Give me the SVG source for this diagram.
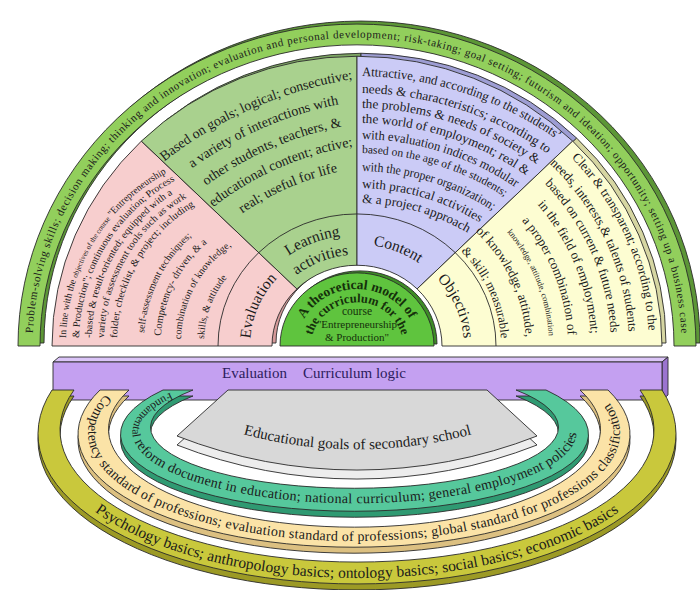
<svg xmlns="http://www.w3.org/2000/svg" width="700" height="590" viewBox="0 0 700 590">
<style>
.o{stroke:#2a2a2a;stroke-width:0.9;stroke-linejoin:round}
.t{font-family:"Liberation Serif","Times New Roman",serif;fill:#1b1b1b}
.band{fill:#92cf5c}.band3{fill:#5c9636}
.pk{fill:#f7cece}.pk3{fill:#d59a9a}
.gr{fill:#a9d18e}.gr3{fill:#7ea664}
.pu{fill:#cbcbf6}.pu3{fill:#9d9dd3}
.ye{fill:#fdfdd2}.ye3{fill:#d6d6a2}
.disc{fill:#5fc43e}.disc3{fill:#3d8c26}
.bar{fill:#c4a0f1}.barTop{fill:#dac4f7}.barSide{fill:#9b74cf}
.ol{fill:#c9c83c}.ol3{fill:#9c9a25}
.cr{fill:#fbe3a7}.cr3{fill:#dcc081}
.te{fill:#56c89c}.te3{fill:#2f9a72}
.gy{fill:#d8d8d8}.gy3{fill:#ededed}
.lbl{font-size:15.5px}
.dt{font-family:"Liberation Serif","Times New Roman",serif;fill:#15300b}
</style>
<defs>
<path id="bandT" d="M 32.5 346 A 324.5 308.28 0 0 1 681.5 346"/>
<path id="pk1" d="M 66 342 A 192 192 0 0 1 258 150"/>
<path id="pk2" d="M 79 342 A 183.5 183.5 0 0 1 262.5 158.5"/>
<path id="pk3" d="M 91.5 342 A 175.2 175.2 0 0 1 266.7 166.8"/>
<path id="pk4" d="M 104 342 A 167 167 0 0 1 271 175"/>
<path id="pk5" d="M 117 342 A 158.4 158.4 0 0 1 275.4 183.6"/>
<path id="pk6" d="M 144 342 A 140.6 140.6 0 0 1 284.6 201.4"/>
<path id="pk7" d="M 161 342 A 129.4 129.4 0 0 1 290.4 212.6"/>
<path id="pk8" d="M 181 342 A 116.2 116.2 0 0 1 297.2 225.8"/>
<path id="pk9" d="M 204 342 A 101 101 0 0 1 305 241"/>
<path id="lb107" d="M 250 346 A 107 101.65 0 0 1 464 346"/>
<path id="lb117" d="M 240 346 A 117 111.15 0 0 1 474 346"/>
<path id="lb96" d="M 261 346 A 96 91.2 0 0 1 453 346"/>
<path id="gr1" d="M 135.5 186.4 A 406.5 406.5 0 0 1 390.5 75"/>
<path id="gr2" d="M 154.3 199.9 A 372 372 0 0 1 387.7 98"/>
<path id="gr3" d="M 173.1 213.5 A 337.5 337.5 0 0 1 384.8 121"/>
<path id="gr4" d="M 191 226.4 A 304.5 304.5 0 0 1 382.1 143"/>
<path id="gr5" d="M 209.8 240 A 270 270 0 0 1 379.3 166"/>
<path id="pu1" d="M 357 76 A 347 347 0 0 1 704 423"/>
<path id="pu2" d="M 357 93 A 330 330 0 0 1 687 423"/>
<path id="pu3" d="M 357 108 A 315 315 0 0 1 672 423"/>
<path id="pu4" d="M 357 123 A 300 300 0 0 1 657 423"/>
<path id="pu5" d="M 357 139 A 284 284 0 0 1 641 423"/>
<path id="pu6" d="M 357 153 A 270 270 0 0 1 627 423"/>
<path id="pu7" d="M 357 171 A 252 252 0 0 1 609 423"/>
<path id="pu8" d="M 357 188 A 235 235 0 0 1 592 423"/>
<path id="pu9" d="M 357 203 A 220 220 0 0 1 577 423"/>
<path id="ye1" d="M 65 346 A 292 277.4 0 0 1 649 346"/>
<path id="ye2" d="M 85 346 A 272 258.4 0 0 1 629 346"/>
<path id="ye3" d="M 103 346 A 254 241.3 0 0 1 611 346"/>
<path id="ye4" d="M 123 346 A 234 222.3 0 0 1 591 346"/>
<path id="ye5" d="M 146 346 A 211 200.45 0 0 1 568 346"/>
<path id="ye6" d="M 165 346 A 192 182.4 0 0 1 549 346"/>
<path id="ye7" d="M 188 346 A 169 160.55 0 0 1 526 346"/>
<path id="ye8" d="M 213 346 A 144 136.8 0 0 1 501 346"/>
<path id="dc1" d="M 297 346 A 60 57 0 0 1 417 346"/>
<path id="dc2" d="M 311 346 A 46 43.7 0 0 1 403 346"/>
<path id="olT" d="M 59 390 A 312 145 0 1 0 655 390"/>
<path id="crT" d="M 110 390 A 266 108 0 1 0 598 390"/>
<path id="teT" d="M 176 390 A 222 71 0 1 0 533 390"/>
<path id="gyT" d="M 225 429 A 443 443 0 0 0 490 429"/>
</defs>

<rect width="700" height="590" fill="#ffffff"/>

<g id="extrusions" class="o">
<path class="band3" transform="translate(4,-3)" d="M 18 346 A 339 322.05 0 0 1 696 346 L 674 346 A 317 301.15 0 0 0 40 346 Z"/>
<path class="pk3" transform="translate(4,-3)" d="M 52 346 A 305 289.75 0 0 1 141.33 141.12 L 296.9 288.9 A 85 80.75 0 0 0 272 346 Z"/>
<path class="gr3" transform="translate(4,-3)" d="M 141.33 141.12 A 305 289.75 0 0 1 357 56.25 L 357 265.25 A 85 80.75 0 0 0 296.9 288.9 Z"/>
<path class="pu3" transform="translate(4,-3)" d="M 357 56.25 A 305 289.75 0 0 1 572.67 141.12 L 417.1 288.9 A 85 80.75 0 0 0 357 265.25 Z"/>
<path class="ye3" transform="translate(4,-3)" d="M 572.67 141.12 A 305 289.75 0 0 1 662 346 L 442 346 A 85 80.75 0 0 0 417.1 288.9 Z"/>
<path class="disc3" transform="translate(3,-2)" d="M 280 346 A 77 73.15 0 0 1 434 346 Z"/>
</g>

<g id="outer-skills-band">
<path class="o band" d="M 18 346 A 339 322.05 0 0 1 696 346 L 674 346 A 317 301.15 0 0 0 40 346 Z"/>
<text class="t" font-size="11"><textPath href="#bandT" startOffset="13" textLength="968" lengthAdjust="spacing">Problem-solving skills; decision making; thinking and innovation; evaluation and personal development; risk-taking; goal setting; futurism and ideation; opportunity; setting up a business case</textPath></text>
</g>

<g id="evaluation-wedge">
<path class="o pk" d="M 52 346 A 305 289.75 0 0 1 141.33 141.12 L 296.9 288.9 A 85 80.75 0 0 0 272 346 Z"/>
<text class="t" font-size="10"><textPath href="#pk1" startOffset="4" textLength="202" lengthAdjust="spacingAndGlyphs">In line with the <tspan font-size="7.5">objectives of the course</tspan> "Entrepreneurship</textPath></text>
<text class="t" font-size="10"><textPath href="#pk2" startOffset="4" textLength="193" lengthAdjust="spacingAndGlyphs">&amp; Production"; continuous evaluation; Process</textPath></text>
<text class="t" font-size="10"><textPath href="#pk3" startOffset="4" textLength="172" lengthAdjust="spacingAndGlyphs">-based &amp; result-oriented; equipped with a</textPath></text>
<text class="t" font-size="10"><textPath href="#pk4" startOffset="4" textLength="170" lengthAdjust="spacingAndGlyphs">variety of assessment tools such as work</textPath></text>
<text class="t" font-size="10"><textPath href="#pk5" startOffset="4" textLength="160" lengthAdjust="spacingAndGlyphs">folder, checklist, &amp; project; including</textPath></text>
<text class="t" font-size="10"><textPath href="#pk6" startOffset="9">self-assessment techniques;</textPath></text>
<text class="t" font-size="10.5"><textPath href="#pk7" startOffset="6">Competency- driven, &amp; a</textPath></text>
<text class="t" font-size="10"><textPath href="#pk8" startOffset="3">combination of knowledge,</textPath></text>
<text class="t" font-size="10"><textPath href="#pk9" startOffset="3">skills, &amp; attitude</textPath></text>
<text class="t lbl" text-anchor="middle"><textPath href="#lb107" startOffset="12.5%">Evaluation</textPath></text>
</g>

<g id="learning-activities-wedge">
<path class="o gr" d="M 141.33 141.12 A 305 289.75 0 0 1 357 56.25 L 357 265.25 A 85 80.75 0 0 0 296.9 288.9 Z"/>
<text class="t" font-size="14" text-anchor="middle"><textPath href="#gr1" startOffset="50%">Based on goals; logical; consecutive;</textPath></text>
<text class="t" font-size="14" text-anchor="middle"><textPath href="#gr2" startOffset="50%">a variety of interactions with</textPath></text>
<text class="t" font-size="14" text-anchor="middle"><textPath href="#gr3" startOffset="50%">other students, teachers, &amp;</textPath></text>
<text class="t" font-size="14" text-anchor="middle"><textPath href="#gr4" startOffset="50%">educational content; active;</textPath></text>
<text class="t" font-size="14" text-anchor="middle"><textPath href="#gr5" startOffset="50%">real; useful for life</textPath></text>
<text class="t lbl" text-anchor="middle"><textPath href="#lb117" startOffset="37.5%">Learning</textPath></text>
<text class="t lbl" text-anchor="middle"><textPath href="#lb96" startOffset="37.5%">activities</textPath></text>
</g>

<g id="content-wedge">
<path class="o pu" d="M 357 56.25 A 305 289.75 0 0 1 572.67 141.12 L 417.1 288.9 A 85 80.75 0 0 0 357 265.25 Z"/>
<text class="t" font-size="13"><textPath href="#pu1" startOffset="5" textLength="209" lengthAdjust="spacingAndGlyphs">Attractive, and according to the students’</textPath></text>
<text class="t" font-size="13"><textPath href="#pu2" startOffset="5" textLength="198" lengthAdjust="spacingAndGlyphs">needs &amp; characteristics; according to</textPath></text>
<text class="t" font-size="13"><textPath href="#pu3" startOffset="5" textLength="186" lengthAdjust="spacingAndGlyphs">the problems &amp; needs of society &amp;</textPath></text>
<text class="t" font-size="13"><textPath href="#pu4" startOffset="5" textLength="175" lengthAdjust="spacingAndGlyphs">the world of employment; real &amp;</textPath></text>
<text class="t" font-size="13"><textPath href="#pu5" startOffset="5" textLength="163" lengthAdjust="spacingAndGlyphs">with evaluation indices modular</textPath></text>
<text class="t" font-size="11.5"><textPath href="#pu6" startOffset="5" textLength="151" lengthAdjust="spacingAndGlyphs">based on the age of the students;</textPath></text>
<text class="t" font-size="13"><textPath href="#pu7" startOffset="5" textLength="138" lengthAdjust="spacingAndGlyphs">with the proper organization;</textPath></text>
<text class="t" font-size="13"><textPath href="#pu8" startOffset="5" textLength="124" lengthAdjust="spacingAndGlyphs">with practical activities</textPath></text>
<text class="t" font-size="13"><textPath href="#pu9" startOffset="5" textLength="111" lengthAdjust="spacingAndGlyphs">&amp; a project approach</textPath></text>
<text class="t lbl" text-anchor="middle"><textPath href="#lb107" startOffset="62.5%">Content</textPath></text>
</g>

<g id="objectives-wedge">
<path class="o ye" d="M 572.67 141.12 A 305 289.75 0 0 1 662 346 L 442 346 A 85 80.75 0 0 0 417.1 288.9 Z"/>
<text class="t" font-size="13" text-anchor="end"><textPath href="#ye1" startOffset="98.3%">Clear &amp; transparent; according to the</textPath></text>
<text class="t" font-size="13" text-anchor="end"><textPath href="#ye2" startOffset="98.3%">needs, interests,&amp; talents of students</textPath></text>
<text class="t" font-size="13" text-anchor="end"><textPath href="#ye3" startOffset="98.3%">based on current &amp; future needs</textPath></text>
<text class="t" font-size="13" text-anchor="end"><textPath href="#ye4" startOffset="98.3%">in the field of employment;</textPath></text>
<text class="t" font-size="13" text-anchor="end"><textPath href="#ye5" startOffset="98.3%">a proper combination of</textPath></text>
<text class="t" font-size="8.5" text-anchor="end"><textPath href="#ye6" startOffset="98.3%">knowledge, attitude, combination</textPath></text>
<text class="t" font-size="13" text-anchor="end"><textPath href="#ye7" startOffset="98.3%">of knowledge, attitude,</textPath></text>
<text class="t" font-size="12.5" text-anchor="end"><textPath href="#ye8" startOffset="98.3%">&amp; skill; measurable</textPath></text>
<text class="t lbl" text-anchor="middle"><textPath href="#lb107" startOffset="87.5%">Objectives</textPath></text>
</g>

<g id="dividers">
<path d="M 218 346 A 139 132.05 0 0 1 496 346" fill="none" stroke="#2a2a2a" stroke-width="0.9"/>
</g>

<g id="center-model">
<path class="o disc" d="M 280 346 A 77 73.15 0 0 1 434 346 Z"/>
<text class="dt" font-size="13.5" font-weight="bold" text-anchor="middle"><textPath href="#dc1" startOffset="50%">A theoretical model of</textPath></text>
<text class="dt" font-size="12.5" font-weight="bold" text-anchor="middle"><textPath href="#dc2" startOffset="50%">the curriculum for the</textPath></text>
<text class="dt" font-size="11.5" text-anchor="middle" x="357" y="315">course</text>
<text class="dt" font-size="11" text-anchor="middle" x="357" y="328">"Entrepreneurship</text>
<text class="dt" font-size="11" text-anchor="middle" x="357" y="341">&amp; Production"</text>
</g>

<g id="curriculum-logic-bar" class="o">
<path class="barTop" d="M 53 362 L 59 357 L 668 357 L 662 362 Z"/>
<path class="barSide" d="M 662 362 L 668 357 L 668 395 L 662 400 Z"/>
<rect class="bar" x="53" y="362" width="609" height="38"/>
<text class="t" font-size="15" x="222" y="378" stroke="none" style="fill:#2c1c5c">Evaluation</text>
<text class="t" font-size="15" x="303" y="378" stroke="none" style="fill:#2c1c5c">Curriculum logic</text>
</g>

<g id="lower-extrusions" class="o">
<path class="ol3" transform="translate(0,6)" d="M 52 390 A 319 150 0 1 0 662 390 L 640 390 A 297 132 0 1 1 74 390 Z"/>
<path class="cr3" transform="translate(0,6)" d="M 100 390 A 276 113 0 1 0 608 390 L 580 390 A 246 98 0 1 1 129 390 Z"/>
<path class="te3" transform="translate(0,6)" d="M 163 390 A 234 77 0 1 0 546 390 L 516 390 A 204 61 0 1 1 193 390 Z"/>
<path class="gy3" transform="translate(0,9)" d="M 228 390 L 487 390 L 537 436 A 493 493 0 0 1 177 436 Z"/>
</g>

<g id="basics-band">
<path class="o ol" d="M 52 390 A 319 150 0 1 0 662 390 L 640 390 A 297 132 0 1 1 74 390 Z"/>
<text class="t" font-size="15.5" text-anchor="middle"><textPath href="#olT" startOffset="50%">Psychology basics; anthropology basics; ontology basics; social basics; economic basics</textPath></text>
</g>

<g id="standards-band">
<path class="o cr" d="M 100 390 A 276 113 0 1 0 608 390 L 580 390 A 246 98 0 1 1 129 390 Z"/>
<text class="t" font-size="14"><textPath href="#crT" startOffset="6" textLength="690" lengthAdjust="spacing">Competency standard of professions; evaluation standard of professions; global standard for professions classification</textPath></text>
</g>

<g id="documents-band">
<path class="o te" d="M 163 390 A 234 77 0 1 0 546 390 L 516 390 A 204 61 0 1 1 193 390 Z"/>
<text class="t" font-size="14"><textPath href="#teT" startOffset="6" textLength="548" lengthAdjust="spacing"><tspan font-size="11.5">Fundamental</tspan> reform document in education; national curriculum; general employment policies</textPath></text>
</g>

<g id="educational-goals">
<path class="o gy" d="M 228 390 L 487 390 L 537 436 A 493 493 0 0 1 177 436 Z"/>
<text class="t" font-size="15" text-anchor="middle"><textPath href="#gyT" startOffset="50%">Educational goals of secondary school</textPath></text>
</g>
</svg>
